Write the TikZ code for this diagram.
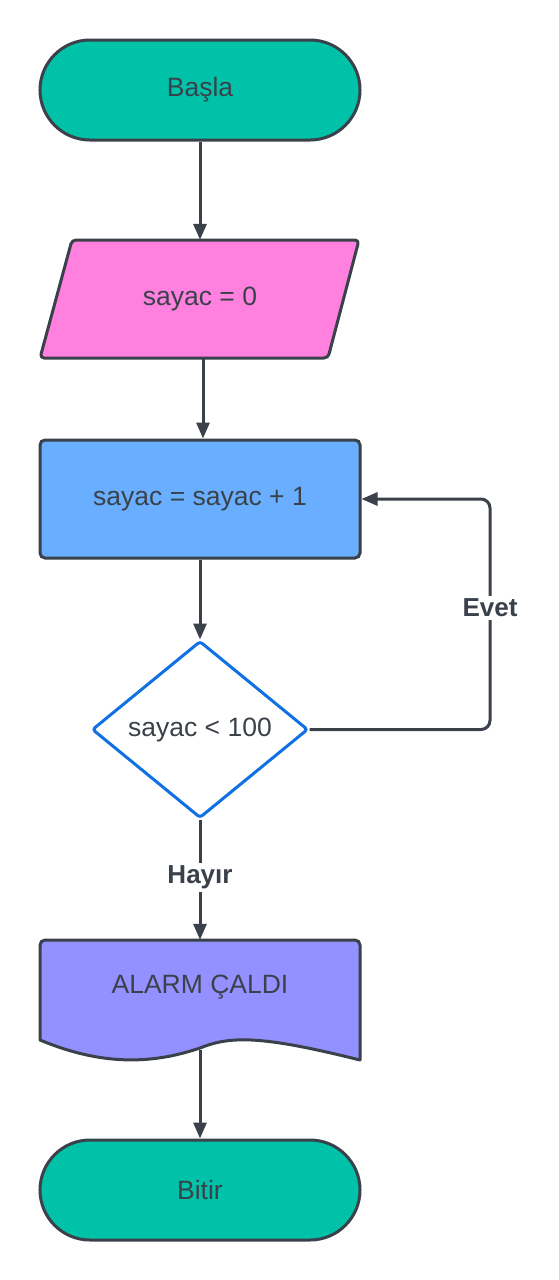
\documentclass[tikz,border=0pt]{standalone}
\usepackage{fontspec}
\setmainfont{Liberation Sans}
\usetikzlibrary{arrows.meta,shapes.geometric}
\definecolor{ink}{HTML}{3A414A}
\definecolor{teal}{HTML}{00C2A8}
\definecolor{pinkfill}{HTML}{FF80DF}
\definecolor{bluefill}{HTML}{6AAFFF}
\definecolor{purplefill}{HTML}{9391FF}
\definecolor{decblue}{HTML}{1071E5}
\tikzset{
  base/.style={draw=ink, line width=3pt, text=ink, font=\fontsize{26.5}{31}\selectfont, inner sep=0pt},
  terminal/.style={base, fill=teal, rounded corners=50pt, minimum width=320pt, minimum height=100pt},
  process/.style={base, fill=bluefill, rounded corners=5pt, minimum width=320pt, minimum height=118pt},
  decision/.style={base, draw=decblue, fill=white, diamond, rounded corners=3pt, minimum width=216pt, minimum height=177pt},
  ghost/.style={inner sep=0pt, text=ink, font=\fontsize{26.5}{31}\selectfont},
  shapeline/.style={draw=ink, line width=3pt, line join=round},
  flow/.style={draw=ink, line width=3pt, -{Triangle[length=16pt,width=13pt]}},
  edgelabel/.style={fill=white, text=ink, font=\fontsize{26}{31}\selectfont\bfseries, inner sep=3pt},
}
\begin{document}
\begin{tikzpicture}[x=1pt,y=-1pt]
\useasboundingbox (0,0) rectangle (558,1280);

% start / end terminals
\node[terminal] (start) at (200,90) {Başla};

% input parallelogram
\path[shapeline, fill=pinkfill, rounded corners=4pt]
  (72,240) -- (359,240) -- (328,358) -- (40,358) -- cycle;
\node[ghost, minimum width=288pt, minimum height=118pt] (init) at (200,299) {sayac = 0};

% increment step
\node[process] (inc) at (200,499) {sayac = sayac + 1};

% loop test
\node[decision] (test) at (200,729.5) {sayac < 100};

% output document shape
\path[shapeline, fill=purplefill]
  (40,1040) -- (40,945) [rounded corners=5pt] -- (40,940) -- (360,940) [sharp corners] -- (360,945) -- (360,1060)
  .. controls (260,1035) and (230,1036) .. (200,1048)
  .. controls (150,1065) and (100,1065) .. (40,1040) -- cycle;
\node[ghost, minimum width=320pt, minimum height=120pt] (alarm) at (200,1000) {};
\node[ghost] (alarmtext) at (200,987) {ALARM ÇALDI};
\coordinate (alarmout) at (200,1050);

\node[terminal] (stop) at (200,1190) {Bitir};

% connectors
\draw[flow] (start.south) -- (init.north);
\draw[flow] ([xshift=3pt]init.south) -- ([xshift=3pt]inc.north);
\draw[flow] (inc.south) -- (test.north);
\draw[flow] (test.south) -- node[edgelabel, pos=0.48] {Hayır} (alarm.north);
\draw[flow, rounded corners=9pt] (test.east) -- (490,729.5) -- (490,499) -- (inc.east);
\node[edgelabel] (yes) at (490,608) {Evet};
\draw[flow] (alarmout) -- (stop.north);
\end{tikzpicture}
\end{document}
